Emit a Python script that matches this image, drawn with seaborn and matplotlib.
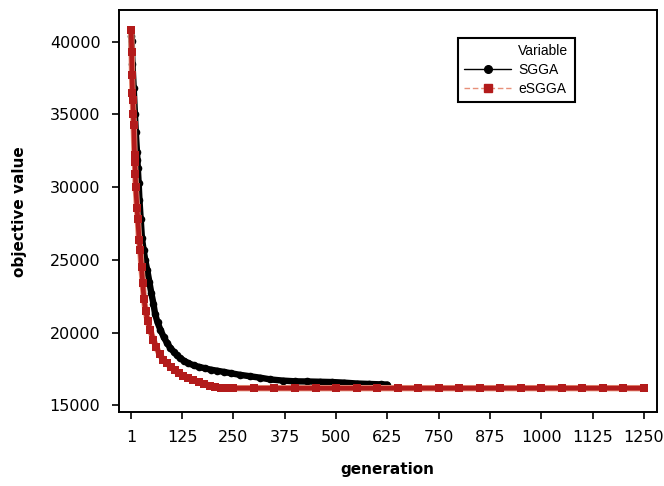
import matplotlib
matplotlib.use("Agg")
import matplotlib.pyplot as plt
from matplotlib.lines import Line2D
import pandas as pd
import seaborn as sns

# best objective value per generation
sgga_gen = [1, 2, 4, 7, 10, 12, 15, 16, 17, 19, 21, 24, 27, 31, 35, 40, 45, 50, 55, 59,
            65, 72, 80, 88, 96, 104, 112, 120, 130, 140, 153, 165, 180, 195, 210, 226,
            245, 265, 290, 315, 340, 370, 400, 430, 460, 490, 520, 550, 580, 610, 625]
sgga_val = [40400, 40050, 38500, 36800, 35000, 33800, 32400, 31900, 31300, 30300, 29100,
            27800, 26500, 25700, 25000, 24300, 23500, 22700, 22000, 21300,
            20700, 20200, 19700, 19300, 18950, 18700, 18450, 18250, 18050, 17900, 17750,
            17650, 17550, 17450, 17380, 17300, 17200, 17100, 17000, 16900, 16780, 16700,
            16650, 16640, 16620, 16600, 16560, 16500, 16470, 16440, 16430]

esgga_gen = [1, 2, 3, 4, 5, 6, 7, 9, 10, 11, 12, 15, 17, 20, 23, 26, 29, 32, 36, 41, 47,
             55, 62, 70, 79, 88, 97, 107, 117, 128, 140, 152, 165, 178, 192, 206, 220, 235,
             250, 300, 350, 400, 450, 500, 550, 600, 650, 700, 750, 800, 850, 900, 950,
             1000, 1050, 1100, 1150, 1200, 1250]
esgga_val = [40800, 39300, 37700, 36500, 36000, 35000, 34300, 32200, 31700, 30900, 30000,
             28600, 27800, 26400, 25700, 24500, 23400, 22300, 21500, 20800, 20200,
             19500, 19000, 18500, 18150, 17900, 17650, 17400, 17200, 17050, 16880, 16750,
             16620, 16480, 16360, 16270, 16210, 16180,
             16180, 16180, 16180, 16180, 16180, 16180, 16180, 16180, 16180, 16180, 16180,
             16180, 16180, 16180, 16180, 16180, 16180, 16180, 16180, 16180, 16180]

x_ticks = [1, 125, 250, 375, 500, 625, 750, 875, 1000, 1125, 1250]
y_ticks = [15000, 20000, 25000, 30000, 35000, 40000]

red = "#b31b1b"
salmon = "#e8907a"

df_sgga = pd.DataFrame({"generation": sgga_gen, "objective value": sgga_val})
df_esgga = pd.DataFrame({"generation": esgga_gen, "objective value": esgga_val})

sns.set_theme(style="ticks")
plt.rcParams["font.family"] = ["DejaVu Sans"]
plt.rcParams["text.color"] = "black"
plt.rcParams["axes.labelcolor"] = "black"

fig = plt.figure(figsize=(6.64, 4.86), dpi=100)
ax = fig.add_axes([0.1785, 0.1516, 0.811, 0.8278])

# series: (data, halo colour, band colour, marker, zorder)
series = [(df_sgga, "black", "black", "o", 2), (df_esgga, salmon, red, "s", 3)]
for d, halo, band, mk, z in series:
    sns.lineplot(data=d, x="generation", y="objective value", color=halo, lw=4.6,
                 estimator=None, sort=False, ax=ax, zorder=z)
    sns.lineplot(data=d, x="generation", y="objective value", color=band, lw=3.4,
                 estimator=None, sort=False, ax=ax, zorder=z + 0.1)
    sns.scatterplot(data=d, x="generation", y="objective value", color=band, marker=mk,
                    s=30, linewidth=0, ax=ax, zorder=z + 0.2)

ax.set_xlim(-30, 1282)
ax.set_ylim(14519, 42180)
ax.set_xticks(x_ticks)
ax.set_yticks(y_ticks)
ax.set_yticklabels([str(v) for v in y_ticks])

for s in ax.spines.values():
    s.set_visible(True)
    s.set_linewidth(1.4)
    s.set_color("black")
ax.tick_params(direction="out", length=5, width=1.2, pad=8, labelsize=11.5,
               colors="black", top=False, right=False)

ax.set_xlabel("generation", fontweight="bold", fontsize=11, labelpad=12, color="black")
ax.set_ylabel("objective value", fontweight="bold", fontsize=11, labelpad=16, color="black")

# legend: "Variable" as a handle-less first row, as in Minitab
h_title = Line2D([], [], color="none")
h1 = Line2D([], [], color="black", lw=1, marker="o", markersize=5.5)
h2 = Line2D([], [], color=salmon, lw=1, ls=(0, (4, 2)), marker="s", markersize=5.5,
            markerfacecolor=red, markeredgecolor=red)
leg = ax.legend(handles=[h_title, h1, h2], labels=["Variable", "SGGA", "eSGGA"],
                loc="upper left", bbox_to_anchor=(0.630, 0.930), borderaxespad=0,
                frameon=True, fancybox=False, edgecolor="black", framealpha=1,
                handlelength=3.4, handletextpad=0.5, labelspacing=0.35, borderpad=0.45,
                prop={"family": "Liberation Sans", "size": 10})
leg.get_frame().set_linewidth(1.5)
for t in leg.get_texts():
    t.set_color("black")

fig.savefig("out.png", dpi=100)
